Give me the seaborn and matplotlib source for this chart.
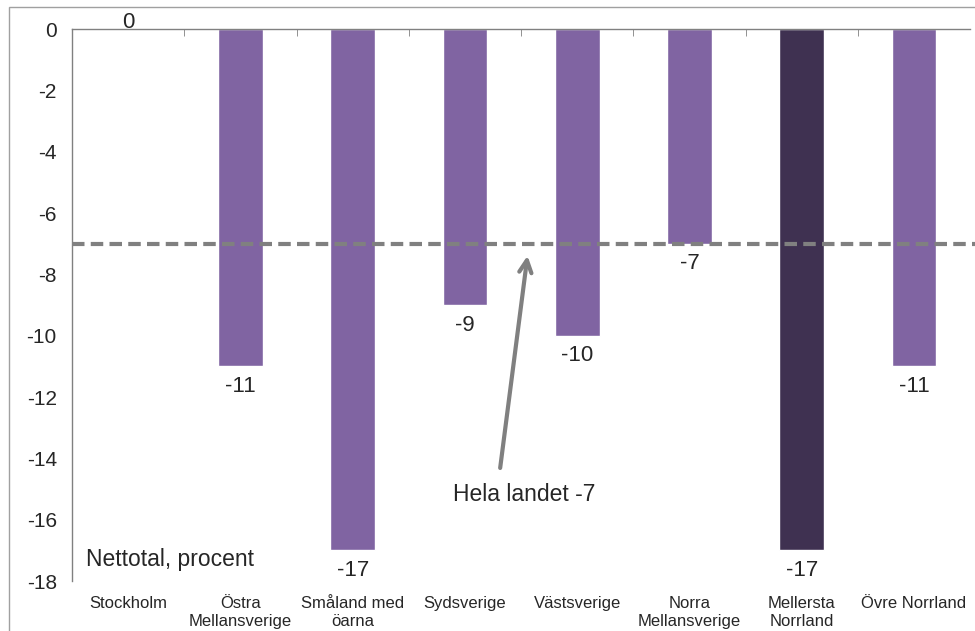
import matplotlib
matplotlib.use("Agg")
import matplotlib.pyplot as plt
import seaborn as sns
import pandas as pd
from matplotlib.ticker import FixedLocator
from matplotlib.patches import Rectangle

# Data
regions = ["Stockholm", "Östra\nMellansverige", "Småland med\nöarna", "Sydsverige",
           "Västsverige", "Norra\nMellansverige", "Mellersta\nNorrland", "Övre Norrland"]
values = [0, -11, -17, -9, -10, -7, -17, -11]
national = -7
highlight = "Mellersta\nNorrland"

df = pd.DataFrame({"Region": regions, "Nettotal": values})
df["Group"] = ["hl" if r == highlight else "base" for r in regions]

sns.set_style("white")
plt.rcParams["font.family"] = ["Liberation Sans", "DejaVu Sans"]

fig = plt.figure(figsize=(9.75, 6.31), dpi=100)
ax = fig.add_axes([0.074, 0.079, 0.921, 0.875])

sns.barplot(data=df, x="Region", y="Nettotal", hue="Group",
            palette={"base": "#8064A2", "hl": "#3F3151"}, saturation=1,
            width=0.4, dodge=False, legend=False, ax=ax)

ax.set_ylim(-18, 0)
ax.set_xlim(-0.5, len(regions) - 0.5)
ax.set_yticks(range(0, -19, -2))
ax.set_yticklabels([str(v) for v in range(0, -19, -2)], fontsize=15)
ax.set_xlabel("")
ax.set_ylabel("")
ax.tick_params(axis="x", which="major", length=0, labelsize=12, pad=11)
ax.tick_params(axis="y", length=5, color="#808080", pad=6)

# category boundary ticks on the zero line
ax.xaxis.set_minor_locator(FixedLocator([i + 0.5 for i in range(len(regions) - 1)]))
ax.tick_params(axis="x", which="minor", top=True, bottom=False, direction="in",
               length=5, color="#808080")

for side in ["right", "bottom"]:
    ax.spines[side].set_visible(False)
for side in ["left", "top"]:
    ax.spines[side].set_color("#808080")
    ax.spines[side].set_linewidth(1)

# value labels
for i, v in enumerate(values):
    if v == 0:
        ax.text(i, v + 0.2, "0", ha="center", va="center", fontsize=16, clip_on=False)
    else:
        ax.text(i, v - 0.65, str(v), ha="center", va="center", fontsize=16)

# national average line
ax.plot([-0.5, len(regions) - 0.45], [national, national], color="#808080",
        lw=3, ls=(0, (3, 1.5)), clip_on=False, zorder=5)

ax.annotate("", xy=(3.56, national - 0.3), xytext=(3.31, -14.4),
            arrowprops=dict(arrowstyle="->", color="#808080", lw=3,
                            mutation_scale=22))
ax.text(3.53, -15.16, f"Hela landet {national}", ha="center", va="center", fontsize=16.5)

ax.text(-0.38, -17.3, "Nettotal, procent", ha="left", va="center", fontsize=16.5)

# outer frame
fig.patches.append(Rectangle((9 / 975, -0.02), 1.05, 1 - 7 / 631 + 0.02,
                             transform=fig.transFigure, fill=False,
                             edgecolor="#A0A0A0", lw=1))

plt.savefig("out.png", dpi=100)
plt.close()
